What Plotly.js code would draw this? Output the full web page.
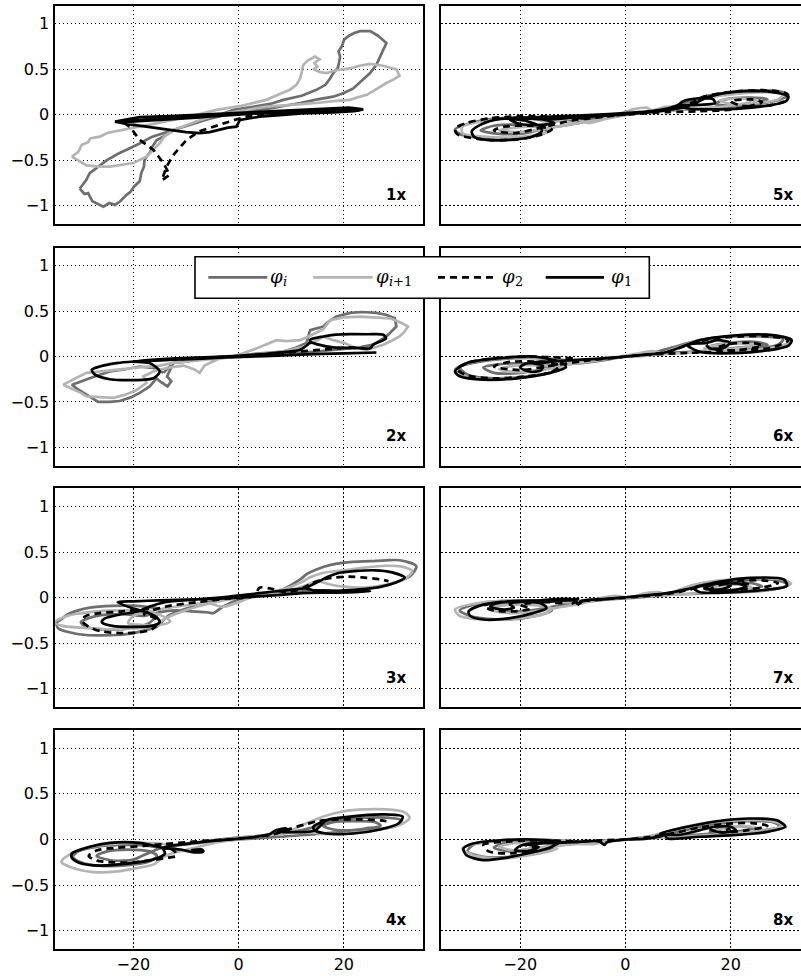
<!DOCTYPE html>
<html>
<head>
<meta charset="utf-8">
<script src="https://cdn.plot.ly/plotly-3.0.1.min.js"></script>
<style>
  html, body { margin: 0; padding: 0; background: #fff; }
  #chart { width: 801px; height: 976px; }
</style>
</head>
<body>
<div id="chart"></div>
<script>
// Phase trajectories (x, y) for each panel: φ_i, φ_{i+1}, φ_2, φ_1.

// ---- 1x ----
const P1_I = [[-30.2,-0.81],[-29.3,-0.87],[-28.6,-0.86],[-27.8,-0.95],[-25.7,-1.01],[-24.6,-0.97],[-23.5,-0.99],[-22.5,-0.95],[-21.3,-0.88],[-20.6,-0.85],[-19.9,-0.79],[-18.8,-0.73],[-18.5,-0.64],[-18.0,-0.57],[-17.9,-0.5],[-17.5,-0.46],[-16.8,-0.41],[-16.4,-0.35],[-15.6,-0.28],[-14.0,-0.23],[-12.4,-0.17],[-9.0,-0.1],[-5.0,-0.03],[-1.0,0.055],[3.0,0.09],[6.0,0.12],[8.5,0.165],[12.0,0.21],[14.8,0.275],[16.5,0.33],[17.4,0.4],[18.0,0.46],[18.9,0.52],[19.3,0.64],[19.0,0.7],[19.6,0.75],[20.1,0.83],[21.0,0.87],[22.0,0.9],[23.1,0.92],[25.0,0.92],[26.5,0.87],[28.1,0.79],[27.6,0.72],[26.9,0.64],[26.2,0.55],[25.0,0.46],[23.5,0.38],[21.8,0.29],[20.0,0.24],[18.0,0.2],[15.0,0.17],[11.7,0.13],[6.0,0.07],[-1.0,0.02],[-6.0,-0.05],[-10.5,-0.13],[-13.5,-0.18],[-16.4,-0.24],[-19.0,-0.32],[-21.3,-0.385],[-23.0,-0.43],[-25.1,-0.5],[-26.5,-0.56],[-28.3,-0.64],[-29.0,-0.72],[-30.2,-0.81]];
const P1_IP = [[-31.7,-0.46],[-30.5,-0.41],[-29.8,-0.33],[-28.6,-0.3],[-28.2,-0.26],[-26.4,-0.24],[-25.0,-0.2],[-23.2,-0.18],[-21.0,-0.15],[-18.8,-0.13],[-15.5,-0.09],[-12.4,-0.055],[-8.0,0.0],[-4.2,0.055],[0.5,0.1],[5.3,0.165],[7.5,0.22],[9.75,0.275],[11.0,0.33],[11.7,0.4],[12.0,0.47],[12.3,0.55],[13.2,0.6],[14.5,0.64],[15.4,0.61],[14.4,0.57],[15.0,0.53],[14.2,0.5],[15.5,0.47],[16.7,0.46],[18.5,0.49],[21.2,0.51],[23.0,0.54],[25.0,0.56],[27.5,0.54],[30.0,0.5],[30.6,0.43],[29.5,0.39],[28.1,0.35],[26.0,0.28],[24.4,0.22],[22.5,0.19],[21.2,0.165],[18.0,0.15],[14.8,0.13],[10.0,0.11],[5.3,0.09],[0.0,0.04],[-4.2,0.0],[-8.0,-0.07],[-12.4,-0.17],[-14.0,-0.23],[-15.0,-0.31],[-16.3,-0.39],[-17.5,-0.46],[-20.0,-0.53],[-22.0,-0.55],[-24.5,-0.57],[-26.5,-0.57],[-28.9,-0.555],[-30.5,-0.5],[-31.7,-0.46]];
const P1_2 = [[23.1,0.06],[18.0,0.05],[11.7,0.04],[5.0,0.01],[1.5,-0.02],[-1.0,-0.06],[-3.6,-0.11],[-5.5,-0.14],[-7.4,-0.18],[-9.9,-0.275],[-11.0,-0.35],[-12.1,-0.42],[-13.0,-0.5],[-13.7,-0.57],[-14.6,-0.72],[-13.1,-0.66],[-14.3,-0.53],[-16.2,-0.385],[-18.8,-0.275],[-20.7,-0.13],[-22.0,-0.08]];
const P1_1 = [[-23.5,-0.074],[-21.0,-0.05],[-18.8,-0.026],[-13.0,-0.015],[-7.4,0.0],[0.0,0.02],[5.3,0.037],[12.0,0.055],[18.0,0.073],[21.0,0.08],[23.7,0.06],[22.0,0.04],[18.0,0.026],[12.0,0.015],[8.5,0.0],[4.0,-0.02],[0.25,-0.055],[-0.4,-0.13],[-2.0,-0.14],[-3.6,-0.16],[-5.5,-0.19],[-7.4,-0.2],[-10.0,-0.19],[-12.4,-0.17],[-15.0,-0.15],[-17.1,-0.13],[-19.0,-0.12],[-21.3,-0.1],[-23.5,-0.074],[-20.0,-0.06],[-14.0,-0.04],[-6.0,-0.02],[2.0,0.01],[10.0,0.03],[17.0,0.05],[23.0,0.045],[18.0,0.06],[8.0,0.04],[0.0,0.01],[-8.0,-0.03],[-16.0,-0.06],[-22.0,-0.08]];

// ---- 2x ----
const P2_I = [[-14.3,-0.18],[-15.6,-0.13],[-18.8,-0.11],[-21.5,-0.14],[-24.5,-0.165],[-26.5,-0.2],[-28.3,-0.24],[-30.2,-0.28],[-31.7,-0.31],[-30.6,-0.36],[-29.5,-0.4],[-28.0,-0.45],[-26.7,-0.5],[-24.5,-0.5],[-22.6,-0.49],[-20.5,-0.45],[-18.8,-0.4],[-16.9,-0.33],[-15.6,-0.24],[-14.8,-0.28],[-13.5,-0.33],[-12.8,-0.27],[-13.6,-0.22],[-12.4,-0.07],[-10.5,-0.06],[-7.0,-0.03],[-4.2,-0.01],[-1.0,0.0],[3.0,0.03],[8.5,0.055],[11.0,0.1],[12.9,0.15],[13.2,0.22],[13.6,0.29],[16.1,0.33],[17.0,0.38],[18.6,0.44],[21.2,0.48],[23.5,0.49],[26.2,0.48],[28.0,0.46],[29.7,0.42],[30.0,0.33],[28.1,0.22],[25.6,0.13],[23.0,0.1],[21.2,0.09],[18.0,0.07],[14.8,0.055],[10.0,0.035],[5.3,0.02],[0.0,-0.005],[-4.2,-0.01],[-8.0,-0.04],[-12.4,-0.07],[-14.3,-0.18]];
const P2_IP = [[-12.4,-0.07],[-15.0,-0.1],[-18.8,-0.12],[-22.0,-0.14],[-25.0,-0.16],[-28.9,-0.18],[-31.0,-0.24],[-33.3,-0.31],[-31.5,-0.36],[-30.0,-0.4],[-28.9,-0.44],[-26.0,-0.45],[-23.8,-0.455],[-21.5,-0.42],[-19.4,-0.37],[-17.5,-0.29],[-18.1,-0.22],[-16.0,-0.16],[-13.0,-0.12],[-10.5,-0.1],[-8.5,-0.14],[-7.4,-0.18],[-6.5,-0.1],[-4.0,-0.03],[-1.0,0.0],[3.0,0.08],[7.2,0.18],[9.0,0.17],[11.7,0.18],[14.0,0.24],[16.1,0.3],[17.4,0.4],[20.0,0.43],[23.1,0.44],[26.0,0.43],[28.8,0.42],[31.0,0.37],[32.2,0.33],[31.5,0.27],[30.6,0.22],[29.0,0.17],[27.5,0.13],[24.4,0.074],[22.0,0.1],[20.0,0.15],[18.0,0.18],[16.1,0.22],[15.0,0.18],[12.0,0.1],[8.0,0.05],[3.0,0.02],[-2.0,-0.01],[-7.0,-0.04],[-12.4,-0.07]];
const P2_2 = [[-20.0,-0.06],[-16.0,-0.04],[-12.0,-0.03],[-6.0,-0.01],[0.0,0.0],[6.0,0.03],[12.0,0.06],[18.0,0.09],[21.0,0.1],[24.0,0.09]];
const P2_1 = [[26.2,0.044],[20.0,0.035],[11.7,0.02],[5.0,0.005],[-1.0,-0.007],[-6.0,-0.02],[-12.4,-0.036],[-16.0,-0.045],[-20.0,-0.055],[-23.2,-0.073],[-26.4,-0.11],[-27.9,-0.146],[-27.3,-0.2],[-24.5,-0.25],[-22.0,-0.26],[-20.0,-0.26],[-16.2,-0.24],[-15.0,-0.165],[-16.9,-0.073],[-20.0,-0.055],[-15.0,-0.03],[-10.5,-0.018],[-3.0,0.0],[5.3,0.03],[9.0,0.05],[11.7,0.074],[13.6,0.16],[13.6,0.184],[16.1,0.22],[18.5,0.24],[21.2,0.246],[24.5,0.245],[27.5,0.24],[28.0,0.2],[25.6,0.13],[25.0,0.09],[22.0,0.095],[18.0,0.1],[14.8,0.136],[13.6,0.16]];

// ---- 3x ----
const P3_I = [[-10.5,-0.13],[-13.4,-0.2],[-15.6,-0.32],[-18.0,-0.36],[-20.0,-0.39],[-23.0,-0.41],[-26.4,-0.415],[-29.0,-0.41],[-31.4,-0.39],[-34.3,-0.335],[-34.6,-0.28],[-33.5,-0.23],[-32.7,-0.19],[-30.5,-0.14],[-28.3,-0.11],[-24.0,-0.09],[-20.0,-0.088],[-17.5,-0.1],[-15.0,-0.13],[-17.0,-0.28],[-20.0,-0.33],[-25.0,-0.35],[-29.0,-0.32],[-30.0,-0.27],[-27.0,-0.2],[-22.0,-0.18],[-18.0,-0.2],[-15.0,-0.16],[-12.0,-0.14],[-9.0,-0.15],[-6.0,-0.16],[-4.8,-0.17],[-3.0,-0.1],[0.0,-0.02],[4.0,0.03],[8.0,0.08],[11.7,0.2],[13.0,0.26],[14.8,0.31],[17.5,0.36],[21.2,0.39],[25.0,0.4],[28.0,0.41],[30.7,0.41],[33.8,0.345],[32.6,0.235],[30.0,0.17],[27.5,0.125],[24.0,0.09],[21.2,0.07],[18.0,0.075],[14.8,0.08],[10.0,0.06],[5.0,0.04],[0.0,0.0],[-5.0,-0.04],[-10.5,-0.13]];
const P3_IP = [[-8.0,-0.1],[-12.0,-0.18],[-14.5,-0.25],[-15.5,-0.3],[-18.0,-0.33],[-22.0,-0.345],[-26.0,-0.345],[-30.0,-0.33],[-33.5,-0.31],[-35.0,-0.27],[-33.5,-0.22],[-31.0,-0.18],[-27.0,-0.15],[-22.0,-0.14],[-18.0,-0.15],[-14.5,-0.2],[-13.0,-0.26],[-15.0,-0.3],[-18.0,-0.3],[-21.0,-0.28],[-20.0,-0.2],[-16.0,-0.14],[-12.0,-0.1],[-6.0,-0.06],[-3.0,-0.1],[0.0,-0.05],[3.0,0.02],[6.0,0.06],[9.0,0.1],[12.0,0.17],[13.5,0.22],[16.0,0.27],[20.0,0.3],[24.0,0.33],[28.0,0.35],[31.0,0.34],[33.0,0.29],[31.5,0.2],[28.0,0.14],[24.0,0.11],[20.0,0.12],[17.0,0.15],[15.0,0.18],[12.0,0.12],[8.0,0.06],[3.0,0.02],[-2.0,-0.02],[-8.0,-0.1]];
const P3_2 = [[-17.0,-0.12],[-22.0,-0.15],[-26.5,-0.17],[-29.0,-0.2],[-29.8,-0.25],[-28.5,-0.32],[-26.0,-0.37],[-22.0,-0.39],[-19.0,-0.38],[-16.5,-0.35],[-15.5,-0.28],[-16.0,-0.22],[-18.0,-0.18],[-14.0,-0.1],[-8.0,-0.05],[-2.0,-0.01],[3.0,0.02],[4.0,0.11],[6.0,0.1],[9.0,0.06],[12.0,0.1],[14.0,0.16],[16.0,0.2],[18.0,0.22],[21.0,0.23],[24.0,0.22],[27.0,0.2],[28.5,0.18]];
const P3_1 = [[-23.0,-0.05],[-20.0,-0.04],[-15.0,-0.03],[-8.0,-0.02],[0.0,0.0],[8.0,0.03],[12.0,0.05],[18.0,0.055],[22.0,0.06],[25.0,0.07],[12.9,0.1],[15.0,0.17],[17.0,0.23],[19.0,0.27],[22.0,0.29],[26.0,0.3],[29.0,0.28],[31.6,0.22],[30.0,0.17],[27.0,0.12],[23.0,0.09],[19.0,0.075],[15.0,0.07],[12.9,0.1],[9.0,0.08],[4.0,0.05],[-2.0,0.01],[-8.0,-0.02],[-14.0,-0.05],[-17.0,-0.1],[-19.0,-0.15],[-23.0,-0.19],[-25.5,-0.23],[-26.0,-0.27],[-24.0,-0.31],[-20.0,-0.32],[-16.5,-0.31],[-15.0,-0.27],[-15.5,-0.22],[-17.0,-0.17],[-20.0,-0.12],[-23.0,-0.05]];

// ---- 4x ----
const P4_I = [[-14.0,-0.1],[-17.0,-0.07],[-22.0,-0.06],[-27.0,-0.08],[-30.5,-0.13],[-31.5,-0.19],[-30.0,-0.25],[-26.0,-0.29],[-21.0,-0.28],[-17.0,-0.24],[-15.5,-0.18],[-17.0,-0.13],[-21.0,-0.11],[-25.0,-0.13],[-27.0,-0.18],[-24.0,-0.23],[-20.0,-0.22],[-18.0,-0.17],[-14.0,-0.08],[-8.0,-0.03],[-2.0,0.01],[4.0,0.04],[10.0,0.08],[14.0,0.13],[17.0,0.19],[20.0,0.22],[24.0,0.24],[28.0,0.24],[31.0,0.21],[30.0,0.15],[26.0,0.11],[22.0,0.1],[18.0,0.11],[16.0,0.15],[18.0,0.19],[22.0,0.2],[26.0,0.19],[27.0,0.15],[24.0,0.12],[20.0,0.09],[15.0,0.06],[8.0,0.03],[0.0,0.0],[-6.0,-0.03],[-11.0,-0.06],[-14.0,-0.1]];
const P4_IP = [[-12.0,-0.06],[-16.0,-0.04],[-22.0,-0.04],[-28.0,-0.08],[-32.0,-0.16],[-33.7,-0.246],[-31.0,-0.32],[-27.6,-0.357],[-23.0,-0.35],[-20.0,-0.32],[-16.0,-0.27],[-15.0,-0.22],[-13.0,-0.16],[-9.0,-0.1],[-4.0,-0.03],[0.0,0.0],[2.0,0.02],[6.0,0.05],[10.0,0.1],[13.0,0.18],[16.0,0.25],[20.0,0.31],[24.0,0.33],[28.0,0.33],[31.5,0.3],[32.5,0.24],[31.0,0.17],[27.0,0.11],[22.0,0.07],[17.0,0.06],[13.0,0.08],[9.0,0.07],[4.0,0.04],[-1.0,0.01],[-6.0,-0.03],[-12.0,-0.06]];
const P4_2 = [[-13.0,-0.1],[-12.0,-0.14],[-11.8,-0.18],[-13.5,-0.2],[-16.0,-0.22],[-20.0,-0.25],[-24.0,-0.25],[-27.0,-0.23],[-28.5,-0.18],[-27.0,-0.12],[-23.0,-0.09],[-18.0,-0.07],[-14.0,-0.05],[-8.0,-0.02],[0.0,0.01],[6.0,0.05],[9.0,0.1],[11.0,0.14],[13.0,0.17],[15.0,0.2],[19.0,0.22],[23.0,0.22],[27.0,0.21],[29.0,0.19]];
const P4_1 = [[-9.0,-0.12],[-7.0,-0.11],[-6.7,-0.13],[-8.5,-0.14],[-11.0,-0.11],[-14.3,-0.092],[-18.8,-0.037],[-24.5,-0.037],[-28.3,-0.08],[-31.7,-0.155],[-31.7,-0.2],[-30.2,-0.257],[-26.4,-0.286],[-21.3,-0.265],[-16.2,-0.22],[-14.0,-0.155],[-14.3,-0.092],[-10.0,-0.05],[-4.0,-0.01],[2.0,0.02],[6.0,0.06],[7.0,0.1],[9.0,0.12],[9.5,0.1],[7.5,0.085],[10.0,0.08],[14.5,0.1],[16.7,0.21],[21.2,0.25],[27.5,0.275],[31.2,0.25],[30.4,0.176],[26.9,0.11],[21.8,0.066],[16.7,0.066],[14.5,0.1],[14.2,0.14],[16.7,0.21]];

// ---- 5x ----
const P5_I = [[-10.0,-0.07],[-15.0,-0.04],[-20.0,-0.03],[-26.0,-0.05],[-30.0,-0.1],[-32.4,-0.16],[-31.5,-0.21],[-28.0,-0.25],[-23.0,-0.27],[-18.0,-0.24],[-15.0,-0.19],[-16.0,-0.14],[-20.0,-0.11],[-25.0,-0.12],[-27.5,-0.17],[-24.0,-0.21],[-19.0,-0.2],[-15.0,-0.15],[-11.0,-0.11],[-8.0,-0.08],[-5.0,-0.05],[0.0,0.0],[5.0,0.04],[9.0,0.09],[12.0,0.14],[15.0,0.2],[20.0,0.25],[25.0,0.27],[29.0,0.26],[31.0,0.22],[29.0,0.16],[25.0,0.12],[20.0,0.1],[17.0,0.12],[19.0,0.17],[24.0,0.19],[27.0,0.17],[24.0,0.12],[18.0,0.08],[12.0,0.06],[6.0,0.04],[0.0,0.0],[-5.0,-0.03],[-10.0,-0.07]];
const P5_IP = [[-4.8,-0.06],[-7.0,-0.09],[-9.0,-0.05],[-10.0,-0.09],[-12.0,-0.06],[-14.3,-0.09],[-17.0,-0.05],[-22.0,-0.04],[-27.0,-0.07],[-31.0,-0.13],[-31.0,-0.2],[-27.0,-0.24],[-22.0,-0.25],[-17.0,-0.22],[-14.0,-0.17],[-16.0,-0.13],[-21.0,-0.14],[-24.0,-0.17],[-21.0,-0.19],[-16.0,-0.16],[-10.0,-0.1],[-4.0,-0.04],[1.5,0.06],[4.0,0.08],[5.0,0.05],[7.9,0.09],[10.0,0.07],[12.0,0.12],[16.0,0.19],[21.0,0.23],[26.0,0.25],[30.0,0.23],[29.0,0.17],[25.0,0.13],[20.0,0.12],[18.0,0.16],[22.0,0.18],[25.0,0.16],[20.0,0.1],[14.0,0.07],[7.0,0.04],[0.0,0.0],[-4.8,-0.06]];
const P5_2 = [[-8.0,-0.04],[-14.0,-0.02],[-20.0,-0.015],[-26.0,-0.04],[-30.2,-0.09],[-32.4,-0.15],[-32.0,-0.21],[-27.0,-0.27],[-20.5,-0.27],[-16.2,-0.22],[-14.0,-0.16],[-18.0,-0.12],[-23.0,-0.13],[-25.0,-0.17],[-21.0,-0.2],[-16.0,-0.14],[-10.0,-0.06],[-4.0,-0.02],[2.0,0.02],[8.0,0.06],[12.0,0.12],[15.0,0.2],[20.5,0.255],[26.9,0.27],[30.7,0.23],[30.7,0.165],[26.9,0.1],[22.0,0.1],[20.0,0.15],[24.0,0.17],[26.0,0.14],[20.5,0.06],[14.2,0.04],[8.0,0.03],[2.0,0.01],[-3.0,-0.01]];
const P5_1 = [[-15.0,-0.05],[-19.0,-0.04],[-23.8,-0.045],[-27.6,-0.11],[-29.2,-0.18],[-28.8,-0.24],[-26.4,-0.275],[-21.9,-0.275],[-17.8,-0.24],[-15.9,-0.18],[-16.2,-0.13],[-18.7,-0.07],[-22.0,-0.04],[-18.0,-0.03],[-15.0,-0.06],[-13.5,-0.09],[-16.0,-0.11],[-20.0,-0.1],[-22.0,-0.05],[-14.0,-0.02],[-6.0,0.0],[0.0,0.02],[5.0,0.04],[9.8,0.1],[11.0,0.15],[13.5,0.18],[16.7,0.17],[17.0,0.13],[14.0,0.11],[10.0,0.1],[12.0,0.07],[18.0,0.06],[24.0,0.08],[28.0,0.11],[30.5,0.15],[31.0,0.2],[28.0,0.25],[23.0,0.26],[18.0,0.23],[15.0,0.18],[13.0,0.12],[9.0,0.06],[3.0,0.02],[-4.0,-0.01],[-10.0,-0.03],[-15.0,-0.05]];

// ---- 6x ----
const P6_I = [[-10.0,-0.05],[-15.0,-0.02],[-22.0,-0.02],[-28.0,-0.06],[-31.5,-0.12],[-30.0,-0.2],[-25.0,-0.24],[-19.0,-0.22],[-14.0,-0.17],[-13.0,-0.11],[-17.0,-0.08],[-23.0,-0.08],[-27.0,-0.12],[-25.0,-0.18],[-20.0,-0.18],[-16.0,-0.14],[-12.0,-0.09],[-8.0,-0.07],[-4.0,-0.04],[0.0,0.0],[5.0,0.04],[9.0,0.1],[12.0,0.15],[16.0,0.2],[21.0,0.22],[26.0,0.22],[30.0,0.19],[29.0,0.13],[25.0,0.09],[20.0,0.08],[16.0,0.11],[20.0,0.15],[25.0,0.16],[27.0,0.13],[22.0,0.1],[17.0,0.07],[12.0,0.05],[6.0,0.03],[0.0,0.0],[-5.0,-0.03],[-10.0,-0.05]];
const P6_IP = [[-6.0,-0.03],[-9.0,-0.07],[-12.0,-0.04],[-17.0,-0.01],[-24.0,-0.02],[-29.0,-0.06],[-32.4,-0.14],[-31.0,-0.21],[-27.0,-0.25],[-21.0,-0.24],[-15.0,-0.19],[-12.0,-0.13],[-15.0,-0.1],[-21.0,-0.1],[-24.0,-0.14],[-21.0,-0.17],[-16.0,-0.15],[-11.0,-0.09],[-6.0,-0.05],[-3.0,-0.02],[2.0,0.03],[5.0,0.06],[7.0,0.04],[9.0,0.08],[11.0,0.12],[14.0,0.18],[19.0,0.22],[25.0,0.24],[30.0,0.22],[31.5,0.17],[29.0,0.11],[24.0,0.07],[19.0,0.06],[15.0,0.09],[18.0,0.13],[23.0,0.14],[25.0,0.12],[21.0,0.09],[15.0,0.05],[8.0,0.03],[2.0,0.0],[-3.0,-0.01],[-6.0,-0.03]];
const P6_2 = [[-10.0,-0.02],[-18.0,0.0],[-25.0,-0.02],[-30.0,-0.07],[-32.0,-0.14],[-30.0,-0.21],[-25.0,-0.24],[-19.0,-0.22],[-14.0,-0.17],[-12.5,-0.1],[-16.0,-0.06],[-22.0,-0.06],[-25.0,-0.11],[-20.0,-0.15],[-15.0,-0.11],[-8.0,-0.05],[0.0,0.0],[8.0,0.05],[12.0,0.13],[16.0,0.19],[22.0,0.22],[28.0,0.22],[31.0,0.18],[28.0,0.1],[22.0,0.07],[17.0,0.08],[19.0,0.13],[24.0,0.15],[26.0,0.12],[20.0,0.06],[12.0,0.04],[4.0,0.02]];
const P6_1 = [[-12.4,-0.055],[-17.5,0.0],[-23.8,-0.018],[-30.2,-0.073],[-32.4,-0.165],[-31.4,-0.22],[-27.0,-0.255],[-20.6,-0.24],[-14.3,-0.18],[-11.3,-0.117],[-12.4,-0.055],[-16.0,-0.07],[-19.0,-0.08],[-20.0,-0.12],[-18.0,-0.17],[-16.0,-0.15],[-15.7,-0.1],[-18.0,-0.07],[-10.0,-0.04],[-4.0,-0.02],[2.0,0.01],[8.0,0.05],[11.7,0.13],[14.2,0.18],[20.5,0.23],[26.9,0.24],[31.6,0.18],[31.0,0.12],[26.9,0.066],[20.5,0.037],[14.2,0.05],[11.7,0.13],[15.4,0.15],[17.5,0.18],[19.9,0.15],[18.5,0.09],[16.0,0.09],[15.4,0.13]];

// ---- 7x ----
const P7_I = [[-12.0,-0.05],[-17.0,-0.03],[-24.0,-0.04],[-29.0,-0.08],[-31.5,-0.14],[-29.0,-0.21],[-23.0,-0.24],[-17.0,-0.2],[-14.0,-0.14],[-16.0,-0.08],[-21.0,-0.06],[-25.0,-0.1],[-23.0,-0.15],[-18.0,-0.14],[-14.0,-0.1],[-10.0,-0.06],[-5.0,-0.03],[0.0,0.0],[5.0,0.03],[10.0,0.07],[14.0,0.13],[19.0,0.18],[25.0,0.2],[29.0,0.19],[31.0,0.14],[28.0,0.09],[22.0,0.06],[17.0,0.07],[15.0,0.11],[19.0,0.15],[24.0,0.16],[26.0,0.12],[21.0,0.08],[15.0,0.05],[8.0,0.03],[2.0,0.0],[-4.0,-0.02],[-12.0,-0.05]];
const P7_IP = [[-7.3,-0.02],[-10.0,-0.05],[-14.0,-0.04],[-20.0,-0.03],[-27.0,-0.05],[-32.4,-0.13],[-31.5,-0.2],[-27.0,-0.24],[-21.0,-0.23],[-15.5,-0.18],[-14.0,-0.12],[-18.0,-0.08],[-24.0,-0.09],[-26.0,-0.13],[-22.0,-0.17],[-17.0,-0.15],[-12.0,-0.1],[-8.0,-0.06],[-5.0,-0.01],[-2.0,0.02],[1.0,0.0],[3.0,0.04],[6.4,0.06],[8.0,0.03],[10.0,0.08],[13.0,0.14],[18.0,0.19],[24.0,0.21],[30.0,0.2],[31.5,0.15],[29.0,0.1],[24.0,0.07],[18.0,0.06],[15.0,0.09],[18.0,0.13],[22.0,0.14],[24.0,0.11],[18.0,0.07],[12.0,0.04],[5.0,0.02],[0.0,0.0],[-4.0,-0.01],[-7.3,-0.02]];
const P7_2 = [[-12.0,-0.06],[-18.0,-0.04],[-24.0,-0.05],[-27.0,-0.09],[-25.0,-0.14],[-21.0,-0.15],[-18.0,-0.12],[-20.0,-0.08],[-14.0,-0.04],[-8.0,-0.02],[-9.5,-0.09],[-10.0,-0.06],[0.0,0.0],[8.0,0.04],[13.0,0.1],[16.0,0.15],[21.0,0.18],[26.0,0.19],[29.0,0.16],[26.0,0.11],[20.0,0.08],[16.0,0.09],[18.0,0.14],[22.0,0.16],[24.0,0.14]];
const P7_1 = [[-10.0,-0.03],[-15.0,-0.03],[-21.9,-0.04],[-27.0,-0.077],[-29.8,-0.15],[-29.5,-0.2],[-27.0,-0.24],[-21.9,-0.224],[-17.5,-0.17],[-15.0,-0.114],[-16.2,-0.059],[-21.9,-0.04],[-25.0,-0.07],[-25.7,-0.1],[-23.0,-0.13],[-21.2,-0.11],[-22.0,-0.07],[-16.0,-0.03],[-10.0,-0.02],[-9.0,-0.07],[-8.5,-0.04],[-3.0,-0.01],[3.0,0.02],[8.0,0.05],[12.9,0.107],[17.4,0.17],[23.7,0.217],[30.1,0.2],[30.7,0.13],[26.9,0.088],[20.5,0.059],[14.2,0.059],[12.9,0.107],[15.0,0.14],[18.0,0.16],[20.0,0.13],[18.0,0.09],[15.0,0.1],[17.0,0.15],[21.0,0.16],[23.0,0.12],[20.0,0.08],[16.0,0.07]];

// ---- 8x ----
const P8_I = [[-8.0,-0.02],[-13.0,-0.01],[-19.0,0.0],[-25.0,-0.02],[-29.0,-0.06],[-30.0,-0.13],[-27.0,-0.19],[-22.0,-0.19],[-16.0,-0.13],[-13.0,-0.06],[-17.0,-0.03],[-23.0,-0.04],[-25.0,-0.09],[-22.0,-0.13],[-18.0,-0.1],[-12.0,-0.06],[-6.0,-0.03],[0.0,0.0],[4.0,0.03],[8.0,0.06],[12.0,0.11],[17.0,0.17],[23.0,0.2],[28.0,0.19],[29.5,0.14],[26.0,0.1],[20.0,0.07],[16.0,0.08],[18.0,0.12],[22.0,0.14],[25.0,0.12],[20.0,0.08],[13.0,0.05],[7.0,0.03],[0.0,0.0],[-4.0,-0.01],[-8.0,-0.02]];
const P8_IP = [[-6.0,-0.03],[-10.0,-0.02],[-16.0,0.0],[-23.0,-0.01],[-28.0,-0.04],[-31.0,-0.1],[-29.0,-0.17],[-24.0,-0.21],[-18.0,-0.17],[-13.0,-0.1],[-15.0,-0.05],[-21.0,-0.04],[-24.0,-0.08],[-21.0,-0.12],[-16.0,-0.09],[-10.0,-0.05],[-6.0,-0.05],[-4.0,-0.02],[0.0,0.0],[3.0,0.02],[7.0,0.07],[10.0,0.12],[15.0,0.18],[21.0,0.21],[27.0,0.21],[30.0,0.16],[27.0,0.1],[21.0,0.07],[17.0,0.09],[20.0,0.13],[24.0,0.14],[26.0,0.11],[21.0,0.07],[14.0,0.04],[7.0,0.02],[1.0,0.0],[-3.0,-0.01],[-6.0,-0.03]];
const P8_2 = [[-10.0,-0.02],[-16.0,-0.01],[-22.0,-0.02],[-27.0,-0.06],[-26.0,-0.13],[-21.0,-0.15],[-17.0,-0.1],[-19.0,-0.06],[-12.0,-0.03],[-5.0,-0.01],[0.0,0.0],[5.0,0.03],[10.0,0.08],[14.0,0.13],[19.0,0.17],[24.0,0.18],[27.0,0.15],[23.0,0.1],[18.0,0.08],[20.0,0.12]];
const P8_1 = [[-12.4,-0.02],[-17.5,0.0],[-23.8,-0.008],[-29.0,-0.044],[-30.8,-0.1],[-30.2,-0.173],[-27.0,-0.226],[-23.8,-0.21],[-18.7,-0.154],[-14.3,-0.088],[-12.4,-0.02],[-17.0,-0.04],[-20.0,-0.07],[-21.0,-0.12],[-18.0,-0.12],[-16.5,-0.08],[-19.0,-0.05],[-10.0,-0.03],[-5.0,-0.02],[-4.0,-0.06],[-3.5,-0.03],[0.0,0.0],[4.0,0.01],[7.0,0.04],[7.5,0.06],[7.9,0.013],[14.2,0.03],[20.5,0.047],[26.9,0.084],[30.4,0.14],[28.8,0.21],[23.7,0.23],[17.4,0.2],[11.0,0.13],[6.6,0.066],[10.0,0.05],[14.0,0.1],[17.0,0.14],[20.0,0.14],[21.0,0.1],[18.0,0.08],[16.0,0.11]];

const PANEL_LABELS = ['1x', '2x', '3x', '4x', '5x', '6x', '7x', '8x'];
const SERIES_NAMES = ['φ_i', 'φ_i+1', 'φ_2', 'φ_1'];
// key labels: symbol plus subscript pieces [text, italic]
const KEY_SUBS = [[['i', true]], [['i', true], ['+1', false]], [['2', false]], [['1', false]]];
const X_TICKS = [-20, 0, 20];
const Y_TICKS = [-1, -0.5, 0, 0.5, 1];

const PANEL_DATA = [
  [P1_I, P1_IP, P1_2, P1_1], [P2_I, P2_IP, P2_2, P2_1],
  [P3_I, P3_IP, P3_2, P3_1], [P4_I, P4_IP, P4_2, P4_1],
  [P5_I, P5_IP, P5_2, P5_1], [P6_I, P6_IP, P6_2, P6_1],
  [P7_I, P7_IP, P7_2, P7_1], [P8_I, P8_IP, P8_2, P8_1]
];

// line styles for the four series
const STYLES = [
  {color: '#6e6e6e', width: 2.7},
  {color: '#b4b4b4', width: 2.7},
  {color: '#000000', width: 2.7, dash: '7px,5px'},
  {color: '#000000', width: 2.7}
];

const W = 801, H = 976;
const px = v => v / W;            // horizontal pixel -> paper fraction
const py = v => 1 - v / H;        // vertical pixel -> paper fraction
const COLS = [[px(54.5), px(422.7)], [px(441.3), 1]];
const ROWS = [[5.7, 224], [247.5, 465.5], [488.3, 707], [730, 949]].map(([t, b]) => [py(b), py(t)]);

const traces = [];
const layout = {
  width: W, height: H,
  margin: {l: 0, r: 0, t: 0, b: 0},
  paper_bgcolor: '#fff', plot_bgcolor: '#fff',
  font: {family: 'DejaVu Sans', size: 16, color: '#000'},
  showlegend: false,
  annotations: [],
  shapes: []
};

PANEL_DATA.forEach((series, p) => {
  const col = p < 4 ? 0 : 1;
  const row = p % 4;
  const n = p + 1;
  const xa = n === 1 ? 'xaxis' : 'xaxis' + n;
  const ya = n === 1 ? 'yaxis' : 'yaxis' + n;
  const xr = n === 1 ? 'x' : 'x' + n;
  const yr = n === 1 ? 'y' : 'y' + n;

  series.forEach((pts, s) => {
    const st = STYLES[s];
    const smooth = p >= 2 || (p === 1 && s === 3);
    traces.push({
      type: 'scatter', mode: 'lines',
      x: pts.map(q => q[0]), y: pts.map(q => q[1]),
      xaxis: xr, yaxis: yr,
      name: SERIES_NAMES[s],
      line: {color: st.color, width: st.width, dash: st.dash || 'solid',
             shape: smooth ? 'spline' : 'linear', smoothing: 0.8},
      hoverinfo: 'skip'
    });
  });

  const grid = {showgrid: true, gridcolor: '#000', gridwidth: 1, griddash: '1.5px,2.5px'};
  layout[xa] = Object.assign({
    domain: COLS[col], anchor: yr,
    range: col === 0 ? [-35, 35] : [-35, 33.38],
    tickmode: 'array', tickvals: X_TICKS,
    showticklabels: row === 3, ticks: '',
    zeroline: false, showline: true, linecolor: '#000', linewidth: 2, mirror: true,
    tickfont: {family: 'DejaVu Sans', size: 16, color: '#000'}, fixedrange: true
  }, grid);
  layout[ya] = Object.assign({
    domain: ROWS[row], anchor: xr,
    range: [-1.2, 1.2],
    tickmode: 'array', tickvals: Y_TICKS,
    showticklabels: col === 0, ticks: '',
    zeroline: false, showline: true, linecolor: '#000', linewidth: 2, mirror: col === 0,
    tickfont: {family: 'DejaVu Sans', size: 16, color: '#000'}, fixedrange: true
  }, grid);

  layout.annotations.push({
    xref: xr, yref: yr, x: 32.2, y: -0.88, xanchor: 'right', yanchor: 'middle',
    text: PANEL_LABELS[p], showarrow: false,
    font: {family: 'DejaVu Sans', size: 15, color: '#000', weight: 'bold'}
  });
});

// key box with one sample line and label per series
const KEY_BOX = [195, 256.7, 649.3, 298.3];
const KEY_Y = 277.3;
const KEY_SAMPLES = [[208.3, 267.3], [313.3, 372.7], [438, 497], [545.7, 604]];
const KEY_TEXT_X = [269, 375, 501, 610];
layout.shapes.push({
  type: 'rect', xref: 'paper', yref: 'paper',
  x0: px(KEY_BOX[0]), x1: px(KEY_BOX[2]), y0: py(KEY_BOX[3]), y1: py(KEY_BOX[1]),
  fillcolor: '#fff', line: {color: '#000', width: 1.6}, layer: 'above'
});
KEY_SAMPLES.forEach(([a, b], s) => {
  const st = STYLES[s];
  layout.shapes.push({
    type: 'line', xref: 'paper', yref: 'paper',
    x0: px(a), x1: px(b), y0: py(KEY_Y), y1: py(KEY_Y),
    line: {color: st.color, width: st.width, dash: st.dash || 'solid'}, layer: 'above'
  });
  // the symbol
  layout.annotations.push({
    xref: 'paper', yref: 'paper', x: px(KEY_TEXT_X[s]), y: py(KEY_Y - 1),
    xanchor: 'left', yanchor: 'middle', showarrow: false, borderpad: 0,
    text: 'φ',
    font: {family: 'DejaVu Serif', size: 18, color: '#000', style: 'italic'}
  });
  // its subscript, set smaller and lower
  let sx = KEY_TEXT_X[s] + 12.5;
  KEY_SUBS[s].forEach(([t, it]) => {
    layout.annotations.push({
      xref: 'paper', yref: 'paper', x: px(sx), y: py(KEY_Y + 4),
      xanchor: 'left', yanchor: 'middle', showarrow: false, borderpad: 0,
      text: t,
      font: {family: 'DejaVu Serif', size: 13, color: '#000', style: it ? 'italic' : 'normal'}
    });
    sx += t === 'i' ? 4.5 : 0;
  });
});

Plotly.newPlot('chart', traces, layout, {staticPlot: true, displayModeBar: false});
</script>
</body>
</html>
